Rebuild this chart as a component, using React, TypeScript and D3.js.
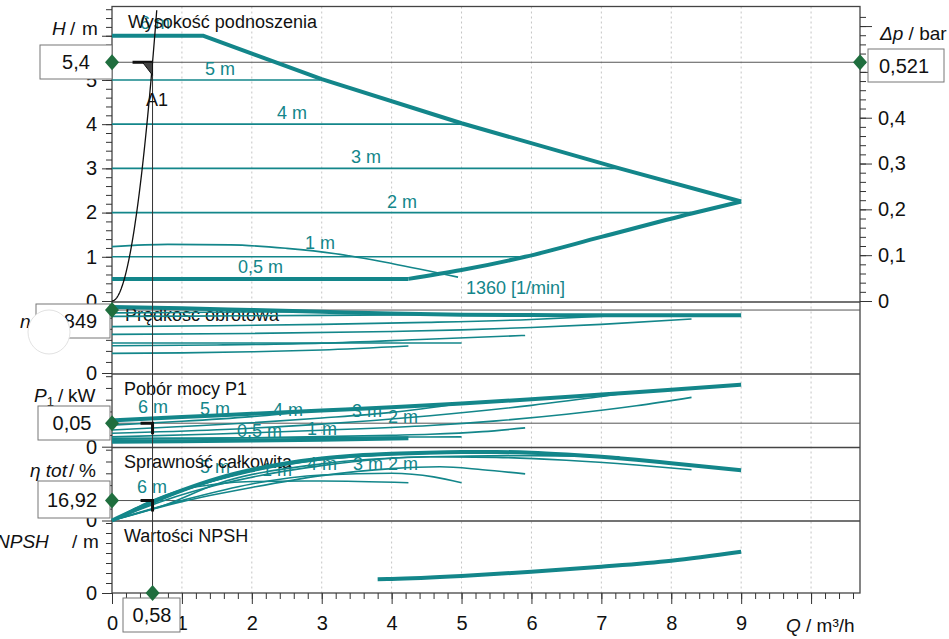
import * as d3 from "d3";
import { useEffect, useRef } from "react";

const TEAL = "#13868a";
const GREEN = "#1f6e3e";
const FONT = "'Liberation Sans', Arial, sans-serif";

// ---- Wysokość podnoszenia, H [m] ----
const qMax = [0, 1.3, 3, 5, 7.26, 9];
const hMax = [6, 6, 5.02, 4.02, 3.0, 2.25];
const qLow = [4.24, 5, 5.91, 7, 8.29, 9];
const hLow = [0.5, 0.7, 1.0, 1.45, 1.98, 2.25];
const qMin = [0, 4.24];
const hMin = [0.5, 0.5];
const q1360 = [0, 0.8, 1.7, 2.5, 3.2, 4, 4.95];
const h1360 = [1.23, 1.28, 1.27, 1.19, 1.07, 0.85, 0.54];
const setpoints = [5, 4, 3, 2, 1];
const setpointEnd = [2.98, 5.0, 7.26, 8.29, 5.91];

// ---- Prędkość obrotowa, n [1/min] ----
const nMaxQ = [0, 1, 2, 3, 4, 5, 6, 7, 8, 9];
const nMax = [2990, 2930, 2850, 2770, 2690, 2640, 2620, 2610, 2610, 2615];
const n5Q = [0, 1, 2, 2.98];
const n5 = [2720, 2740, 2760, 2775];
const n4Q = [0, 2, 4, 5];
const n4 = [2560, 2590, 2625, 2640];
const n3Q = [0, 1.5, 3, 4.5, 6, 7.26];
const n3 = [2100, 2140, 2200, 2290, 2420, 2605];
const n2Q = [0, 2, 4, 5, 6, 7, 8.29];
const n2 = [1750, 1790, 1880, 1950, 2060, 2200, 2440];
const n1Q = [0, 1.5, 3, 4.5, 5.91];
const n1 = [1235, 1270, 1350, 1530, 1700];
const nMinQ = [0, 5];
const nMin = [1360, 1360];
const n05Q = [0, 1, 2, 3, 4.24];
const n05 = [890, 910, 960, 1040, 1220];

// ---- Pobór mocy P1 [kW] ----
const pMaxQ = [0, 1, 2, 3, 4, 5, 6, 7, 8, 9];
const pMax = [0.056, 0.063, 0.07, 0.077, 0.084, 0.092, 0.101, 0.111, 0.121, 0.132];
const p5Q = [0, 1, 2, 2.98];
const p5 = [0.046, 0.054, 0.064, 0.077];
const p4Q = [0, 1, 2, 3, 4, 5];
const p4 = [0.0355, 0.043, 0.051, 0.061, 0.073, 0.092];
const p3Q = [0, 1.5, 3, 4.55, 6, 7.26];
const p3 = [0.0285, 0.036, 0.048, 0.066, 0.088, 0.112];
const p2Q = [0, 1.5, 3, 4.55, 5.5, 6.5, 7.5, 8.29];
const p2 = [0.021, 0.027, 0.035, 0.045, 0.055, 0.069, 0.087, 0.105];
const p1Q = [0, 1, 2, 3, 4, 4.55, 5.3, 5.91];
const p1 = [0.0157, 0.017, 0.019, 0.0215, 0.0245, 0.0265, 0.032, 0.04];
const pMinQ = [0, 1, 2, 3, 4, 5];
const pMin = [0.018, 0.0185, 0.019, 0.0197, 0.0205, 0.021];
const p05Q = [0, 1, 2, 3, 4.24];
const p05 = [0.0106, 0.0115, 0.013, 0.015, 0.018];

// ---- Sprawność całkowita [%] ----
const eMaxQ = [0, 0.5, 1, 1.5, 2, 2.5, 3, 3.5, 4, 4.5, 5, 5.5, 6, 6.5, 7, 7.5, 8, 8.5, 9];
const eMax = [0, 13.5, 25.5, 35.5, 43, 48.5, 52.5, 55, 56.5, 57.5, 58, 58, 57.5, 56, 54, 51.5, 48.5, 45.5, 42.5];
const e5Q = [0, 0.5, 1, 1.5, 2, 2.5, 2.98];
const e5 = [0, 13.5, 25, 34.5, 42.5, 48.5, 52.5];
const e4Q = [0, 0.5, 1, 2, 3, 4, 5];
const e4 = [0, 13, 25, 41.5, 51.5, 56, 57.5];
const e3Q = [0, 0.75, 1.5, 3, 4.55, 6, 7.26];
const e3 = [0, 13, 31, 48, 54, 55, 54];
const e2Q = [0, 0.75, 1.5, 3, 4.55, 5.5, 6.5, 7.5, 8.29];
const e2 = [0, 17, 30, 46.5, 54, 53.5, 51, 47, 43];
const e1Q = [0, 1, 2, 3, 4, 4.69, 5.3, 5.91];
const e1 = [0, 16, 28, 38, 44, 45.5, 43, 39.5];
const eMinQ = [0, 1, 2, 3, 4, 4.6, 5];
const eMin = [0, 17, 31, 38.5, 40, 37, 32];
const e05Q = [0, 0.5, 1, 1.5, 2, 3, 4.24];
const e05 = [0, 15, 26, 31, 33, 33.5, 32];

// ---- Wartości NPSH [m] ----
const npshQ = [3.8, 4, 5, 6, 7, 8, 9];
const npsh = [1.37, 1.4, 1.7, 2.13, 2.63, 3.23, 4.13];

// ---- punkt pracy ----
const opQ = 0.58;
const opH = 5.4;
const opDp = 0.521;
const opN = 2849;
const opP = 0.05;
const opEta = 16.92;

const fmt = (d: number) => String(+d.toFixed(3)).replace(".", ",");

function Axis(props: any) {
  const ref = useRef<SVGGElement>(null);
  useEffect(() => {
    const gen =
      props.orient === "left" ? d3.axisLeft(props.scale)
      : props.orient === "right" ? d3.axisRight(props.scale)
      : d3.axisBottom(props.scale);
    gen.tickValues(props.values).tickSize(props.size).tickSizeOuter(0)
      .tickPadding(props.pad || 4)
      .tickFormat((d: any) => (props.labels && props.labels.some((l: number) => Math.abs(l - d) < 1e-6) ? fmt(d) : ""));
    const g = d3.select(ref.current!).call(gen as any);
    g.select(".domain").remove();
    g.attr("font-family", FONT).attr("font-size", 20);
    g.selectAll("line").attr("stroke", "#333").attr("stroke-width", 1);
    g.selectAll("text").attr("fill", "#111");
  }, []);
  return <g ref={ref} transform={props.transform} />;
}

export default function App() {
  const x = d3.scaleLinear().domain([0, 10.7]).range([112, 860]);
  const yH = d3.scaleLinear().domain([0, 6.65]).range([301, 7]);
  const yDp = d3.scaleLinear().domain([0, 6.65 * (opDp / opH)]).range([301, 7]);
  const yN = d3.scaleLinear().domain([0, 3000]).range([373, 306.7]);
  const yP = d3.scaleLinear().domain([0, 0.15]).range([446.7, 376.2]);
  const yE = d3.scaleLinear().domain([0, 60]).range([520.5, 449.7]);
  const yNP = d3.scaleLinear().domain([0, 7]).range([593, 523]);

  const left = x(0), right = x(10.7);
  const top = 6.5, bottom = 593;
  const seps = [302, 374, 447.5, 521];

  const path = (ys: any, q: number[], v: number[], curve: any = d3.curveMonotoneX) =>
    d3.line<number>().x((_, i) => x(q[i])).y((d) => ys(d)).curve(curve)(v) || "";

  const thin = (d: string, k: string) => (
    <path key={k} d={d} fill="none" stroke={TEAL} strokeWidth={1.6} />
  );
  const thick = (d: string, k: string) => (
    <path key={k} d={d} fill="none" stroke={TEAL} strokeWidth={4} strokeLinejoin="round" />
  );

  // system curve H = k Q^2 through the duty point
  const kSys = opH / (opQ * opQ);
  const sysQ = d3.range(0, Math.sqrt(6.65 / kSys) + 0.0001, 0.01);
  const sysPath = d3.line<number>().x((q) => x(q)).y((q) => yH(kSys * q * q))(sysQ) || "";

  const xo = x(opQ);
  const diamond = (cx: number, cy: number, k: string) => (
    <path key={k} d={`M${cx},${cy - 8}L${cx + 7},${cy}L${cx},${cy + 8}L${cx - 7},${cy}Z`} fill={GREEN} />
  );
  const box = (x0: number, y0: number, w: number, h: number, txt: string, tx: number, k: string) => (
    <g key={k}>
      <rect x={x0} y={y0} width={w} height={h} fill="#fff" stroke="#777" strokeWidth={1} />
      <text x={tx} y={y0 + h / 2 + 7} textAnchor="middle" fontSize={20} fill="#111">{txt}</text>
    </g>
  );

  const tealLabel = (t: string, lx: number, ly: number, k: string) => (
    <text key={k} x={lx} y={ly} fontSize={18} fill={TEAL}>{t}</text>
  );

  const hLabelX = [205, 277, 351, 387, 305];

  return (
    <svg width={949} height={639} style={{ position: "absolute", left: 0, top: 0, background: "#fff" }} fontFamily={FONT}>
      <rect x={0} y={0} width={949} height={639} fill="#fff" />

      {/* vertical grid */}
      {d3.range(1, 11).map((q) => (
        <line key={"g" + q} x1={x(q)} x2={x(q)} y1={top} y2={bottom} stroke="#c4c4c4" strokeDasharray="2 3" />
      ))}

      {/* frames */}
      <rect x={left} y={top} width={right - left} height={bottom - top} fill="none" stroke="#444" strokeWidth={1.3} />
      {seps.map((s) => (
        <line key={"s" + s} x1={left} x2={right} y1={s} y2={s} stroke="#444" strokeWidth={1.3} />
      ))}

      {/* duty point reference lines */}
      <line x1={left} x2={right} y1={yH(opH)} y2={yH(opH)} stroke="#555" strokeWidth={1} />
      <line x1={left} x2={right} y1={yN(opN)} y2={yN(opN)} stroke="#555" strokeWidth={1} />
      <line x1={left} x2={right} y1={yP(opP)} y2={yP(opP)} stroke="#555" strokeWidth={1} />
      <line x1={left} x2={right} y1={yE(opEta)} y2={yE(opEta)} stroke="#555" strokeWidth={1} />

      {/* teal curve labels */}
      {tealLabel("6 m", 140, 29, "h6")}
      {setpoints.map((s, i) => tealLabel(`${s} m`, hLabelX[i], yH(s) - (s === 1 ? 8 : 5), "hl" + i))}
      {tealLabel("0,5 m", 238, yH(0.5) - 6, "h05")}
      {tealLabel("1360 [1/min]", 466, 294, "h1360")}

      {tealLabel("6 m", 138, 413, "p6")}
      {tealLabel("5 m", 200, 415, "p5")}
      {tealLabel("4 m", 273, 416, "p4")}
      {tealLabel("3 m", 352, 417, "p3")}
      {tealLabel("2 m", 388, 423, "p2")}
      {tealLabel("0,5 m", 237, 437, "p05")}
      {tealLabel("1 m", 307, 435, "p1")}

      {tealLabel("6 m", 137, 493, "e6")}
      {tealLabel("5 m", 200, 473, "e5")}
      {tealLabel("1 m", 262, 476, "e1")}
      {tealLabel("4 m", 307, 470, "e4")}
      {tealLabel("3 m", 353, 470, "e3")}
      {tealLabel("2 m", 388, 470, "e2")}

      {/* panel titles */}
      <g fontSize={18} fill="#111">
        <text x={128} y={28}>Wysokość podnoszenia</text>
        <text x={125} y={321}>Prędkość obrotowa</text>
        <text x={124} y={395}>Pobór mocy P1</text>
        <text x={124} y={468}>Sprawność całkowita</text>
        <text x={124} y={542}>Wartości NPSH</text>
      </g>

      {/* H curves */}
      {setpoints.map((s, i) => thin(path(yH, [0, setpointEnd[i]], [s, s]), "hs" + i))}
      {thin(path(yH, q1360, h1360), "h1360c")}
      {thick(path(yH, qMax, hMax, d3.curveLinear), "hmax")}
      {thick(path(yH, qLow, hLow), "hlow")}
      {thick(path(yH, qMin, hMin, d3.curveLinear), "hmin")}

      {/* n curves */}
      {thin(path(yN, n5Q, n5), "n5")}
      {thin(path(yN, n4Q, n4), "n4")}
      {thin(path(yN, n3Q, n3), "n3")}
      {thin(path(yN, n2Q, n2), "n2")}
      {thin(path(yN, n1Q, n1), "n1")}
      {thin(path(yN, nMinQ, nMin), "nmin")}
      {thin(path(yN, n05Q, n05), "n05")}
      {thick(path(yN, nMaxQ, nMax), "nmax")}

      {/* P1 curves */}
      {thin(path(yP, p5Q, p5), "p5c")}
      {thin(path(yP, p4Q, p4), "p4c")}
      {thin(path(yP, p3Q, p3), "p3c")}
      {thin(path(yP, p2Q, p2), "p2c")}
      {thin(path(yP, p1Q, p1), "p1c")}
      {thin(path(yP, pMinQ, pMin), "pminc")}
      {thick(path(yP, p05Q, p05), "p05c")}
      {thick(path(yP, pMaxQ, pMax), "pmaxc")}

      {/* efficiency curves */}
      {thin(path(yE, e5Q, e5), "e5c")}
      {thin(path(yE, e4Q, e4), "e4c")}
      {thin(path(yE, e3Q, e3), "e3c")}
      {thin(path(yE, e2Q, e2), "e2c")}
      {thin(path(yE, e1Q, e1), "e1c")}
      {thin(path(yE, eMinQ, eMin), "eminc")}
      {thin(path(yE, e05Q, e05), "e05c")}
      {thick(path(yE, eMaxQ, eMax), "emaxc")}

      {/* NPSH */}
      {thick(path(yNP, npshQ, npsh), "npsh")}

      {/* system curve and duty point */}
      <path d={sysPath} fill="none" stroke="#111" strokeWidth={1.3} />
      <line x1={xo} x2={xo} y1={yH(opH)} y2={bottom} stroke="#333" strokeWidth={1} />
      <line x1={xo - 20} x2={xo} y1={yH(opH)} y2={yH(opH)} stroke="#111" strokeWidth={3} />
      <path d={`M${xo - 10},${yH(opH)}L${xo},${yH(opH)}L${xo},${yH(opH) + 13}Z`} fill="#444" stroke="#111" strokeWidth={1} />
      <text x={146} y={106} fontSize={18} fill="#111">A1</text>
      <path d={`M${xo - 12},${yP(opP)}H${xo}V${yP(opP) + 11}`} fill="none" stroke="#111" strokeWidth={3} />
      <path d={`M${xo - 12},${yE(opEta)}H${xo}V${yE(opEta) + 11}`} fill="none" stroke="#111" strokeWidth={3} />

      {/* axes */}
      <Axis orient="left" scale={yH} values={d3.range(0, 6.61, 0.2)} size={6} transform={`translate(${left},0)`} />
      <Axis orient="left" scale={yH} values={d3.range(0, 7, 1)} labels={[0, 1, 2, 3, 4, 5]} size={10} pad={5} transform={`translate(${left},0)`} />
      <Axis orient="right" scale={yDp} values={d3.range(0, 0.64, 0.02)} size={6} transform={`translate(${right},0)`} />
      <Axis orient="right" scale={yDp} values={[0, 0.1, 0.2, 0.3, 0.4, 0.5, 0.6]} labels={[0, 0.1, 0.2, 0.3, 0.4]} size={12} pad={6} transform={`translate(${right},0)`} />
      <Axis orient="left" scale={yN} values={d3.range(500, 3001, 500)} size={6} transform={`translate(${left},0)`} />
      <Axis orient="left" scale={yN} values={[0]} labels={[0]} size={10} pad={5} transform={`translate(${left},0)`} />
      <Axis orient="left" scale={yP} values={d3.range(0.025, 0.151, 0.025)} size={6} transform={`translate(${left},0)`} />
      <Axis orient="left" scale={yP} values={[0]} labels={[0]} size={10} pad={5} transform={`translate(${left},0)`} />
      <Axis orient="left" scale={yE} values={d3.range(10, 61, 10)} size={6} transform={`translate(${left},0)`} />
      <Axis orient="left" scale={yE} values={[0]} labels={[0]} size={10} pad={5} transform={`translate(${left},0)`} />
      <Axis orient="left" scale={yNP} values={d3.range(1, 7.1, 1)} size={6} transform={`translate(${left},0)`} />
      <Axis orient="left" scale={yNP} values={[0]} labels={[0]} size={10} pad={5} transform={`translate(${left},0)`} />
      <Axis orient="bottom" scale={x} values={d3.range(0, 10.61, 0.2)} size={6} transform={`translate(0,${bottom})`} />
      <Axis orient="bottom" scale={x} values={d3.range(0, 11, 1)} labels={[0, 1, 2, 3, 4, 5, 6, 7, 8, 9]} size={11} pad={12} transform={`translate(0,${bottom})`} />

      {/* axis titles */}
      <g fontSize={19} fill="#111">
        <text x={52} y={35}><tspan fontStyle="italic">H</tspan><tspan x={70}>/</tspan><tspan x={82}>m</tspan></text>
        <text x={880} y={40}><tspan fontStyle="italic">Δp</tspan> / bar</text>
        <text x={20} y={328} fontStyle="italic">n</text>
        <text x={34} y={402}><tspan fontStyle="italic">P</tspan><tspan fontSize={13} dy={4}>1</tspan><tspan dy={-4} x={58}>/</tspan><tspan x={68}>kW</tspan></text>
        <text x={30} y={477}><tspan fontStyle="italic">η tot</tspan><tspan x={69}>/</tspan><tspan x={79}>%</tspan></text>
        <text x={-4} y={548}><tspan fontStyle="italic">NPSH</tspan><tspan x={72}>/</tspan><tspan x={83}>m</tspan></text>
        <text x={786} y={632}><tspan fontStyle="italic">Q</tspan> / m³/h</text>
      </g>

      {/* value boxes */}
      {box(40, 45, 72, 34, fmt(opH), 76, "bH")}
      {box(36, 304, 74, 34, String(opN), 75, "bN")}
      {box(38, 406, 72, 34, fmt(opP), 72, "bP")}
      {box(38, 481, 72, 37, fmt(opEta), 72, "bE")}
      {box(123, 598, 57, 34, fmt(opQ), 152, "bQ")}
      {box(868, 49, 76, 33, fmt(opDp), 904, "bDp")}
      <ellipse cx={49} cy={332} rx={21} ry={22} fill="#fff" stroke="#e2e2e2" strokeWidth={1} />

      {diamond(left, yH(opH), "dH")}
      {diamond(left, yN(opN), "dN")}
      {diamond(left, yP(opP), "dP")}
      {diamond(left, yE(opEta), "dE")}
      {diamond(xo, bottom, "dQ")}
      {diamond(right, yDp(opDp), "dDp")}
    </svg>
  );
}
